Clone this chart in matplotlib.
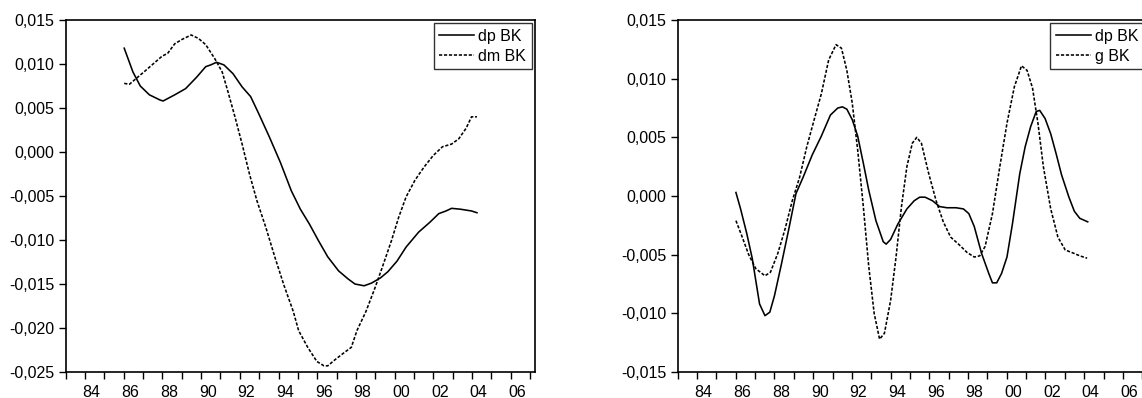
import numpy as np
import matplotlib
matplotlib.use("Agg")
import matplotlib.pyplot as plt
from matplotlib.ticker import FixedLocator, FuncFormatter

plt.rcParams['font.family'] = ['Liberation Sans', 'DejaVu Sans']

# left panel: dp BK vs dm BK
ldp_x = [1986.03, 1986.48, 1986.86, 1987.33, 1987.61, 1987.89, 1988.04, 1988.64, 1989.2, 1989.77,
         1990.24, 1990.5, 1990.8, 1991.18, 1991.65, 1992.12, 1992.56, 1992.97, 1993.53, 1994.1,
         1994.66, 1995.13, 1995.6, 1996.07, 1996.54, 1997.1, 1997.58, 1997.95, 1998.42, 1998.8,
         1999.27, 1999.65, 2000.12, 2000.59, 2001.24, 2001.81, 2002.28, 2002.65, 2002.94, 2003.4,
         2003.97, 2004.25]
ldp_y = [0.0118, 0.0091, 0.0075, 0.0065, 0.0062, 0.0059, 0.0058, 0.0065, 0.0072, 0.0085,
         0.0097, 0.0099, 0.0102, 0.0099, 0.0089, 0.0074, 0.0063, 0.0044, 0.0017, -0.0012,
         -0.0044, -0.0065, -0.0082, -0.0101, -0.0119, -0.0135, -0.0144, -0.0150, -0.0152, -0.0149,
         -0.0143, -0.0136, -0.0124, -0.0108, -0.0091, -0.0080, -0.0070, -0.0067, -0.0064, -0.0065,
         -0.0067, -0.0069]

ldm_x = [1986.03, 1986.3, 1986.67, 1987.05, 1987.52, 1987.99, 1988.27, 1988.64, 1989.02, 1989.49,
         1989.87, 1990.24, 1990.71, 1991.09, 1991.37, 1991.75, 1992.12, 1992.5, 1992.88, 1993.35,
         1993.82, 1994.29, 1994.76, 1995.04, 1995.51, 1995.98, 1996.35, 1996.54, 1996.92, 1997.39,
         1997.76, 1998.05, 1998.52, 1998.99, 1999.36, 1999.83, 2000.21, 2000.59, 2001.05, 2001.52,
         2001.99, 2002.47, 2002.94, 2003.31, 2003.69, 2003.97, 2004.25]
ldm_y = [0.0078, 0.0077, 0.0084, 0.0091, 0.0100, 0.0109, 0.0112, 0.0123, 0.0128, 0.0133,
         0.0129, 0.0122, 0.0106, 0.0091, 0.0070, 0.0040, 0.0009, -0.0025, -0.0055, -0.0086,
         -0.0120, -0.0152, -0.0181, -0.0203, -0.0222, -0.0238, -0.0243, -0.0243, -0.0236, -0.0228,
         -0.0222, -0.0203, -0.0181, -0.0154, -0.0131, -0.0101, -0.0074, -0.0051, -0.0032, -0.0017,
         -0.0004, 0.0006, 0.0009, 0.0015, 0.0027, 0.0040, 0.0040]

# right panel: dp BK vs g BK
rdp_x = [1986.01, 1986.25, 1986.57, 1986.85, 1987.23, 1987.51, 1987.76, 1988.0, 1988.36, 1988.73,
         1989.11, 1989.48, 1989.95, 1990.42, 1990.89, 1991.27, 1991.51, 1991.74, 1992.02, 1992.3,
         1992.59, 1992.87, 1993.24, 1993.62, 1993.77, 1994.0, 1994.37, 1994.84, 1995.22, 1995.5,
         1995.78, 1996.16, 1996.53, 1996.91, 1997.38, 1997.76, 1998.04, 1998.32, 1998.7, 1999.07,
         1999.26, 1999.48, 1999.73, 2000.01, 2000.29, 2000.67, 2000.95, 2001.23, 2001.52, 2001.7,
         2001.98, 2002.27, 2002.55, 2002.83, 2003.21, 2003.49, 2003.77, 2004.18]
rdp_y = [0.0003, -0.0011, -0.0032, -0.0053, -0.0092, -0.0102, -0.0099, -0.0085, -0.0058, -0.0029,
         0.0002, 0.0016, 0.0035, 0.0051, 0.0069, 0.0075, 0.0076, 0.0074, 0.0065, 0.0051,
         0.0028, 0.0005, -0.0021, -0.0039, -0.0041, -0.0037, -0.0024, -0.0011, -0.0004, -0.0001,
         -0.0001, -0.0004, -0.0009, -0.0010, -0.0010, -0.0011, -0.0015, -0.0026, -0.0049, -0.0066,
         -0.0074, -0.0074, -0.0066, -0.0052, -0.0024, 0.0019, 0.0042, 0.0059, 0.0072, 0.0073,
         0.0066, 0.0053, 0.0036, 0.0018, -0.0001, -0.0013, -0.0019, -0.0022]

rg_x = [1986.01, 1986.29, 1986.67, 1987.04, 1987.51, 1987.79, 1988.17, 1988.55, 1988.92, 1989.3,
        1989.67, 1990.05, 1990.42, 1990.8, 1991.18, 1991.46, 1991.74, 1992.02, 1992.3, 1992.59,
        1992.87, 1993.15, 1993.43, 1993.68, 1994.0, 1994.28, 1994.56, 1994.84, 1995.12, 1995.35,
        1995.59, 1995.97, 1996.35, 1996.72, 1997.1, 1997.57, 1997.94, 1998.32, 1998.6, 1998.88,
        1999.26, 1999.64, 2000.01, 2000.39, 2000.76, 2001.05, 2001.33, 2001.61, 2001.89, 2002.27,
        2002.64, 2003.02, 2003.49, 2003.77, 2004.15]
rg_y = [-0.0021, -0.0033, -0.0050, -0.0062, -0.0068, -0.0065, -0.0049, -0.0028, -0.0004, 0.0016,
        0.0042, 0.0065, 0.0087, 0.0116, 0.0129, 0.0126, 0.0107, 0.0079, 0.0039, -0.0009,
        -0.0060, -0.0100, -0.0122, -0.0117, -0.0089, -0.0052, -0.0009, 0.0025, 0.0045, 0.0050,
        0.0045, 0.0019, -0.0004, -0.0022, -0.0035, -0.0042, -0.0048, -0.0052, -0.0051, -0.0043,
        -0.0015, 0.0025, 0.0062, 0.0093, 0.0111, 0.0107, 0.0092, 0.0062, 0.0025, -0.0011,
        -0.0035, -0.0046, -0.0049, -0.0051, -0.0053]

years = np.arange(1983, 2008)
label_years = np.arange(1984, 2007, 2)

fig = plt.figure(figsize=(11.42, 3.98), dpi=100)
ax1 = fig.add_axes([0.0574, 0.0653, 0.4111, 0.8844])
ax2 = fig.add_axes([0.5934, 0.0653, 0.4111, 0.8844])  # right side runs off the canvas, as in the source

dash = (0, (2.0, 1.1))
fs = 11.5


def style(ax, ylim, yticks, names, series):
    for (x, y), ls, nm in zip(series, ['-', dash], names):
        ax.plot(x, y, color='black', lw=1.15, linestyle=ls, label=nm)
    ax.set_xlim(1983, 2007.25)
    ax.set_ylim(*ylim)
    ax.set_yticks(yticks)
    ax.yaxis.set_major_formatter(FuncFormatter(lambda v, p: ('%.3f' % v).replace('.', ',')))
    ax.xaxis.set_major_locator(FixedLocator(years))
    ax.xaxis.set_major_formatter(FuncFormatter(lambda v, p: ''))
    # year labels sit a bit right of the year tick
    ax.xaxis.set_minor_locator(FixedLocator(label_years + 0.34))
    ax.xaxis.set_minor_formatter(FuncFormatter(lambda v, p: '%02d' % (int(round(v - 0.34)) % 100)))
    ax.tick_params(axis='x', which='major', direction='out', length=5, width=1.0)
    ax.tick_params(axis='x', which='minor', length=0, pad=9.5, labelsize=fs)
    ax.tick_params(axis='y', direction='out', length=5, width=1.0, pad=3, labelsize=fs)
    for s in ax.spines.values():
        s.set_linewidth(1.2)
    leg = ax.legend(loc='upper right', fontsize=fs, frameon=True, fancybox=False,
                    edgecolor='black', borderaxespad=0.2, borderpad=0.35,
                    labelspacing=0.3, handlelength=2.2, handletextpad=0.25)
    leg.get_frame().set_linewidth(1.0)


style(ax1, (-0.025, 0.015), np.arange(-0.025, 0.0151, 0.005), ['dp BK', 'dm BK'],
      [(ldp_x, ldp_y), (ldm_x, ldm_y)])
style(ax2, (-0.015, 0.015), np.arange(-0.015, 0.0151, 0.005), ['dp BK', 'g BK'],
      [(rdp_x, rdp_y), (rg_x, rg_y)])

fig.savefig('out.png', dpi=100)
